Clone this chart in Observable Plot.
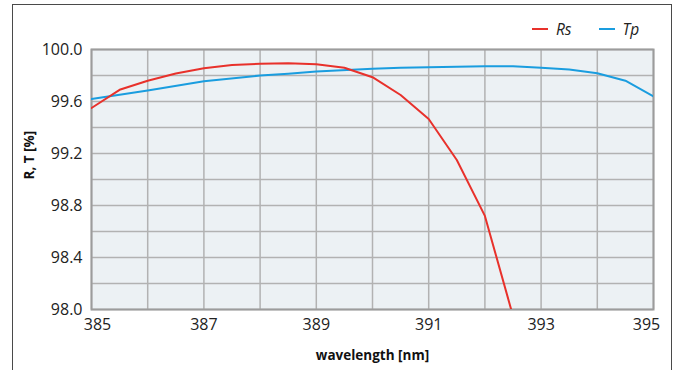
<!DOCTYPE html>
<html>
<head>
<meta charset="utf-8">
<script src="https://cdn.jsdelivr.net/npm/d3@7"></script>
<script src="https://cdn.jsdelivr.net/npm/@observablehq/plot@0.6"></script>
<style>
  html, body { margin: 0; padding: 0; background: #fff; }
  #wrap { position: relative; width: 680px; height: 370px; overflow: hidden; font-family: "Open Sans", sans-serif; }
  #border { position: absolute; left: 12px; top: 4px; width: 660px; height: 400px; border: 1.5px solid #4a4a4a; box-sizing: border-box; pointer-events: none; }
  #legend { position: absolute; top: 18px; left: 532px; display: flex; align-items: center; font-size: 15.5px; font-style: italic; color: #222; }
  #legend .item { display: flex; align-items: center; margin-right: 27px; }
  #legend .sw { width: 16px; height: 2px; margin-right: 8px; }
</style>
</head>
<body>
<div id="wrap">
  <div id="chart"></div>
  <div id="border"></div>
  <div id="legend"></div>
</div>
<script>
const wavelengths = [385, 385.5, 386, 386.5, 387, 387.5, 388, 388.5, 389, 389.5, 390, 390.5, 391, 391.5, 392, 392.5];
const rsValues   = [99.55, 99.69, 99.76, 99.815, 99.856, 99.88, 99.89, 99.895, 99.887, 99.86, 99.787, 99.65, 99.465, 99.15, 98.72, 97.95];

const tpWavelengths = [385, 386, 387, 388, 388.5, 389, 390, 390.5, 391, 392, 392.5, 393, 393.5, 394, 394.5, 395];
const tpValues      = [99.62, 99.685, 99.756, 99.80, 99.813, 99.83, 99.851, 99.859, 99.864, 99.872, 99.872, 99.86, 99.846, 99.818, 99.76, 99.64];

const seriesNames = ["Rs", "Tp"];
const seriesColors = ["#e8312b", "#1a9ddf"];

const xTicks = [385, 387, 389, 391, 393, 395];
const yTicks = [98.0, 98.4, 98.8, 99.2, 99.6, 100.0];
const xGrid = d3.range(385, 396, 1);
const yGrid = d3.range(0, 11).map(i => 98 + i * 0.2);

const rs = wavelengths.map((w, i) => ({w, v: rsValues[i], s: "Rs"}));
const tp = tpWavelengths.map((w, i) => ({w, v: tpValues[i], s: "Tp"}));

const fontFamily = "'Open Sans', sans-serif";

const chart = Plot.plot({
  width: 680,
  height: 370,
  marginLeft: 91,
  marginRight: 27,
  marginTop: 49,
  marginBottom: 61,
  style: {fontFamily, fontSize: "16px", color: "#222", background: "transparent"},
  x: {domain: [385, 395]},
  y: {domain: [98, 100]},
  marks: [
    Plot.frame({fill: "#ecf1f4", stroke: "none"}),
    Plot.gridX(xGrid, {stroke: "#b2b2b2", strokeOpacity: 1, strokeWidth: 1.5}),
    Plot.gridY(yGrid, {stroke: "#b2b2b2", strokeOpacity: 1, strokeWidth: 1.5}),
    Plot.frame({stroke: "#9c9c9c", strokeWidth: 2}),
    Plot.line(tp, {x: "w", y: "v", stroke: seriesColors[1], strokeWidth: 2, clip: true}),
    Plot.line(rs, {x: "w", y: "v", stroke: seriesColors[0], strokeWidth: 2, clip: true}),
    Plot.axisY(yTicks, {tickSize: 0, tickPadding: 9, tickFormat: d3.format(".1f"), label: null, fontSize: 16}),
    Plot.axisX(xTicks.slice(1, -1), {tickSize: 0, tickPadding: 9, tickFormat: d => String(d), label: null, fontSize: 16}),
    Plot.axisX([xTicks[0]], {tickSize: 0, tickPadding: 9, tickFormat: d => String(d), label: null, fontSize: 16, dx: 6}),
    Plot.axisX([xTicks[xTicks.length - 1]], {tickSize: 0, tickPadding: 9, tickFormat: d => String(d), label: null, fontSize: 16, dx: -7}),
    Plot.text(["R, T [%]"], {frameAnchor: "left", dx: -62, rotate: -90, fontWeight: "bold", fontSize: 13.5, fill: "#111"}),
    Plot.text(["wavelength [nm]"], {frameAnchor: "bottom", lineAnchor: "middle", dy: 46, fontWeight: "bold", fontSize: 13.5, fill: "#111"})
  ]
});
document.getElementById("chart").appendChild(chart);

const legend = document.getElementById("legend");
seriesNames.forEach((name, i) => {
  const item = document.createElement("div");
  item.className = "item";
  const sw = document.createElement("span");
  sw.className = "sw";
  sw.style.background = seriesColors[i];
  const label = document.createElement("span");
  label.textContent = name;
  item.appendChild(sw);
  item.appendChild(label);
  legend.appendChild(item);
});
</script>
</body>
</html>
